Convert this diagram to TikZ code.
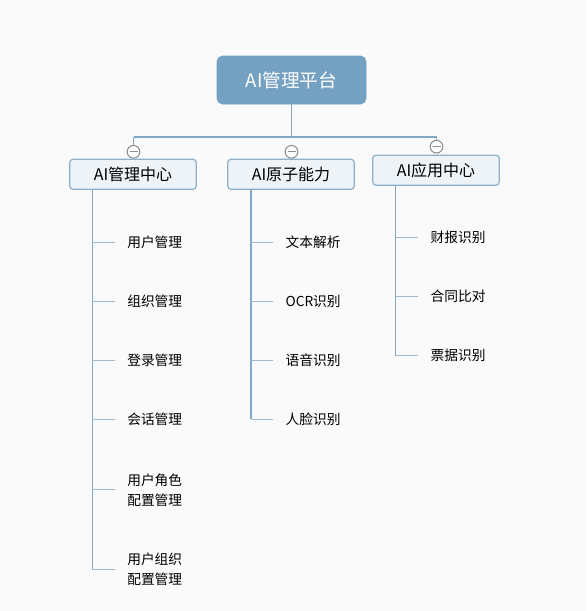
\documentclass[tikz,border=0pt]{standalone}
\usepackage{fontspec}
\setmainfont{Noto Sans CJK SC}
\definecolor{bg}{HTML}{FAFAFA}
\definecolor{rootfill}{HTML}{74A1C1}
\definecolor{childfill}{HTML}{EEF3F7}
\definecolor{childdraw}{HTML}{8DB0CA}
\definecolor{linec}{HTML}{82A8C5}
\definecolor{stubc}{HTML}{9DBAD1}
\definecolor{circc}{HTML}{8E8E8E}
\tikzset{
  rootbox/.style={rectangle, rounded corners=4pt, fill=rootfill, draw=rootfill, text=white,
    minimum width=111.75pt, minimum height=36pt, font=\fontsize{14pt}{16pt}\selectfont, inner sep=0pt},
  childbox/.style={rectangle, rounded corners=2.5pt, fill=childfill, draw=childdraw, line width=0.9pt,
    minimum width=95pt, minimum height=22.5pt, font=\fontsize{12pt}{14pt}\selectfont, inner sep=0pt},
  collapse/.style={circle, draw=circc, fill=white, line width=0.8pt, minimum size=9.5pt, inner sep=0pt,
    path picture={\draw[circc, line width=0.9pt] ([xshift=-3pt]path picture bounding box.center) -- ([xshift=3pt]path picture bounding box.center);}},
  item/.style={anchor=west, inner xsep=9pt, inner ysep=0pt, align=left,
    font=\fontsize{10.3pt}{15pt}\selectfont},
  bus/.style={draw=linec, line width=1.1pt},
  vline/.style={draw=linec, line width=1.1pt},
  stub/.style={draw=stubc, line width=1pt},
}
\begin{document}
\begin{tikzpicture}[x=0.75pt,y=-0.75pt]
\fill[bg] (0,0) rectangle (586,611);
\useasboundingbox (0,0) rectangle (586,611);

% root
\node[rootbox] (root) at (291.5,80) {AI管理平台};

% bus
\coordinate (busL) at (133.5,137);
\coordinate (busM) at (291.5,137);
\coordinate (busR) at (436.5,137);
\draw[bus] (root.south) -- (busM);
\draw[bus] (busL) -- (busR);

% children
\node[childbox] (mL) at (133,174.3) {AI管理中心};
\node[childbox] (mM) at (291,174.3) {AI原子能力};
\node[childbox] (mR) at (436,170.2) {AI应用中心};

% collapse circles
\node[collapse] (cL) at (133.5,151.8) {};
\node[collapse] (cM) at (291.5,151.8) {};
\node[collapse] (cR) at (436.5,146.7) {};
\draw[bus] (busL) -- (cL.north);
\draw[bus] (busR) -- (cR.north);

% left branch
\coordinate (L0) at (92.3,189.3);
\coordinate (L1) at (92.3,242.3);
\coordinate (L2) at (92.3,301.3);
\coordinate (L3) at (92.3,360.3);
\coordinate (L4) at (92.3,419.3);
\coordinate (L5) at (92.3,489.3);
\coordinate (L6) at (92.3,569.3);
\node[item] (tL1) at (115,242.3) {用户管理};
\node[item] (tL2) at (115,301.3) {组织管理};
\node[item] (tL3) at (115,360.3) {登录管理};
\node[item] (tL4) at (115,419.3) {会话管理};
\node[item] (tL5) at (115,490.7) {用户角色\\配置管理};
\node[item] (tL6) at (115,569.3) {用户组织\\配置管理};
\draw[vline] (L0) -- (L6);
\foreach \i in {1,2,3,4}{\draw[stub] (L\i) -- (tL\i.west);}
\draw[stub] (L5) -- (tL5.west |- L5);
\draw[stub] (L6) -- (tL6.west |- L6);

% middle branch
\coordinate (M0) at (251,189.3);
\coordinate (M1) at (251,242.3);
\coordinate (M2) at (251,301.3);
\coordinate (M3) at (251,360.3);
\coordinate (M4) at (251,419.3);
\node[item] (tM1) at (273.3,242.3) {文本解析};
\node[item] (tM2) at (273.3,301.3) {OCR识别};
\node[item] (tM3) at (273.3,360.3) {语音识别};
\node[item] (tM4) at (273.3,419.3) {人脸识别};
\draw[vline] (M0) -- (M4);
\foreach \i in {1,2,3,4}{\draw[stub] (M\i) -- (tM\i.west);}

% right branch
\coordinate (R0) at (395.7,185.2);
\coordinate (R1) at (395.7,237.7);
\coordinate (R2) at (395.7,296.7);
\coordinate (R3) at (395.7,355.5);
\node[item] (tR1) at (418.3,237.7) {财报识别};
\node[item] (tR2) at (418.3,296.7) {合同比对};
\node[item] (tR3) at (418.3,355.5) {票据识别};
\draw[vline] (R0) -- (R3);
\foreach \i in {1,2,3}{\draw[stub] (R\i) -- (tR\i.west);}
\end{tikzpicture}
\end{document}
